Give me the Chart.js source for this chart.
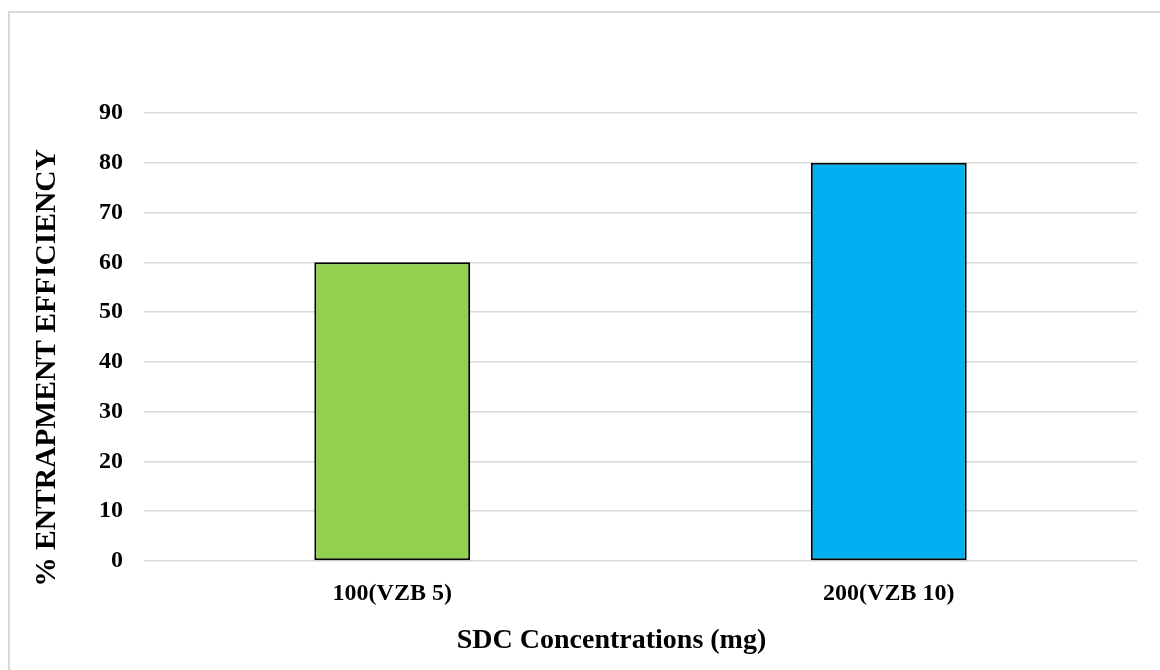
<!DOCTYPE html>
<html>
<head>
<meta charset="utf-8">
<script src="https://cdn.jsdelivr.net/npm/chart.js@4/dist/chart.umd.min.js"></script>
<style>
  body { margin: 0; background: #fff; }
  .frame {
    position: absolute; left: 8px; top: 11px;
    width: 1170px; height: 680px;
    border: 2px solid #d9d9d9;
  }
  .wrap { position: absolute; left: 0; top: 0; width: 1160px; height: 670px; }
</style>
</head>
<body>
<div class="frame"></div>
<div class="wrap"><canvas id="chart" width="1160" height="670"></canvas></div>
<script>
// data
const categories = ['100(VZB 5)', '200(VZB 10)'];
const entrapment = [60, 80];
const barColors = ['#92d050', '#00b0f0'];
const yTitle = '% ENTRAPMENT EFFICIENCY';
const xTitle = 'SDC Concentrations (mg)';

const serif = '"Liberation Serif", "Times New Roman", serif';

// axis titles are not centred on the plot in the original, so draw them here
const axisTitles = {
  id: 'axisTitles',
  afterDraw(chart) {
    const { ctx, chartArea } = chart;
    ctx.save();
    ctx.fillStyle = '#000';
    ctx.textAlign = 'center';
    ctx.textBaseline = 'middle';

    ctx.font = 'bold 28px ' + serif;
    ctx.fillText(xTitle, (chartArea.left + chartArea.right) / 2 - 29, 641);

    ctx.font = 'bold 29.5px ' + serif;
    ctx.translate(47, (chartArea.top + chartArea.bottom) / 2 + 31);
    ctx.rotate(-Math.PI / 2);
    ctx.fillText(yTitle, 0, 0);
    ctx.restore();
  }
};

new Chart(document.getElementById('chart'), {
  type: 'bar',
  data: {
    labels: categories,
    datasets: [{
      data: entrapment,
      backgroundColor: barColors,
      borderColor: '#000',
      borderWidth: 2,
      borderSkipped: false,
      categoryPercentage: 1,
      barPercentage: 0.314
    }]
  },
  options: {
    responsive: false,
    animation: false,
    layout: { padding: { left: 0, right: 23, top: 113, bottom: 0 } },
    plugins: {
      legend: { display: false },
      tooltip: { enabled: false }
    },
    scales: {
      x: {
        grid: { display: false, drawTicks: false },
        border: { display: false },
        ticks: {
          color: '#000',
          padding: 18,
          font: { family: serif, size: 24, weight: 'bold' }
        },
        afterFit(scale) { scale.height = 109; }
      },
      y: {
        min: 0,
        max: 90,
        ticks: {
          stepSize: 10,
          color: '#000',
          padding: 21,
          font: { family: serif, size: 24, weight: 'bold' }
        },
        grid: { color: '#d9d9d9', lineWidth: 1.5, drawTicks: false },
        border: { display: false },
        afterFit(scale) { scale.width = 144; }
      }
    }
  },
  plugins: [axisTitles]
});
</script>
</body>
</html>
